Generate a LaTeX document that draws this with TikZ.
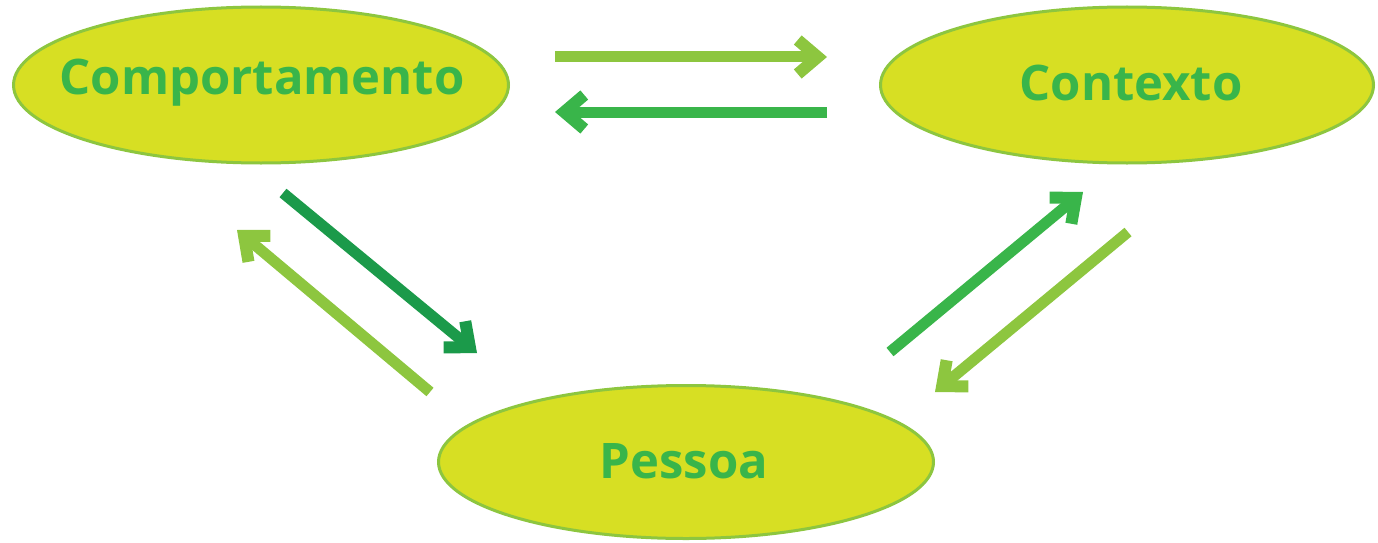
\documentclass[tikz,border=0pt]{standalone}
\usepackage{fontspec}
\setmainfont{Open Sans}
\usetikzlibrary{arrows.meta,shapes.geometric}
\definecolor{efill}{HTML}{D7DF23}
\definecolor{edraw}{HTML}{8DC63F}
\definecolor{etext}{HTML}{39B54A}
\definecolor{alight}{HTML}{8DC63F}
\definecolor{amed}{HTML}{39B54A}
\definecolor{adark}{HTML}{1B9A4A}
\tikzset{
  blob/.style={ellipse, draw=edraw, fill=efill, line width=3pt, inner sep=0pt},
  label/.style={font=\fontsize{49}{52}\selectfont\bfseries, text=etext},
  conn/.style={line width=11pt, line cap=butt,
    -{Straight Barb[length=20pt,width=34pt,line width=12pt]}},
}
\begin{document}
\begin{tikzpicture}[x=1pt,y=-1pt]
\useasboundingbox (0,0) rectangle (1378,543);
\node[blob, minimum width=495pt, minimum height=156pt] (comp) at (261,85) {};
\node[blob, minimum width=493pt, minimum height=156pt] (cont) at (1127,85) {};
\node[blob, minimum width=495pt, minimum height=153pt] (pess) at (686,462) {};
\node[label] (tcomp) at (262,83) {Comportamento};
\node[label] (tcont) at (1131,83) {Contexto};
\node[label] (tpess) at (684,461) {Pessoa};
\coordinate (a1s) at (555,57);
\coordinate (a1e) at (827,57);
\coordinate (a2s) at (827,112);
\coordinate (a2e) at (555,112);
\coordinate (a3s) at (283,193);
\coordinate (a3e) at (477,353);
\coordinate (a4s) at (430,392);
\coordinate (a4e) at (237,230);
\coordinate (a5s) at (890,352);
\coordinate (a5e) at (1083,192);
\coordinate (a6s) at (1128,232);
\coordinate (a6e) at (935,392);
\draw[conn, alight] (a1s) -- (a1e);
\draw[conn, amed] (a2s) -- (a2e);
\draw[conn, adark] (a3s) -- (a3e);
\draw[conn, alight] (a4s) -- (a4e);
\draw[conn, amed] (a5s) -- (a5e);
\draw[conn, alight] (a6s) -- (a6e);
\end{tikzpicture}
\end{document}
